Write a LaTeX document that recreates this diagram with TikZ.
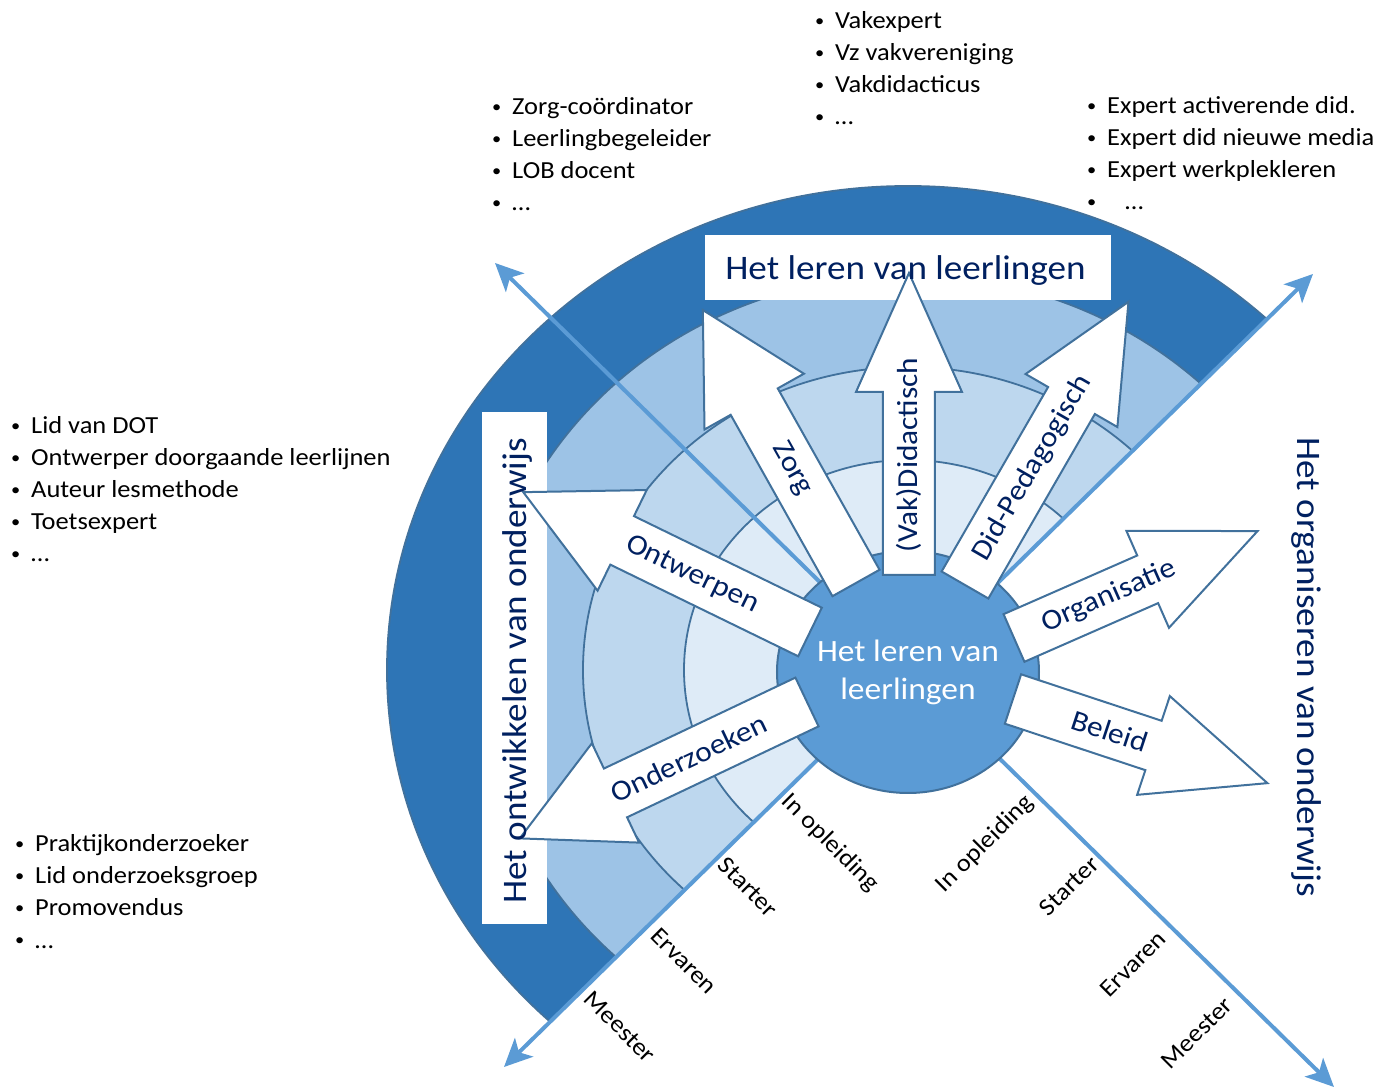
\documentclass[tikz,border=0pt]{standalone}
\usepackage{fontspec}
\setmainfont[FakeStretch=1.08]{Carlito}
\usetikzlibrary{shapes.geometric,arrows.meta}
\definecolor{cdark}{HTML}{2E75B6}
\definecolor{cmid}{HTML}{9DC3E6}
\definecolor{clight}{HTML}{BDD7EE}
\definecolor{cpale}{HTML}{DEEBF7}
\definecolor{chub}{HTML}{5B9BD5}
\definecolor{cline}{HTML}{41719C}
\definecolor{navy}{HTML}{002060}
\newcommand\fs[2]{\fontsize{#1}{#2}\selectfont}
% #1 x, #2 y, #3 angle, #4 length, #5 half shaft, #6 half head, #7 head length
\newcommand\blockarrow[7]{%
  \filldraw[barrow, shift={(#1,#2)}, rotate=#3]
    (0,-#5) -- ({#4-#7},-#5) -- ({#4-#7},-#6) -- (#4,0) -- ({#4-#7},#6) -- ({#4-#7},#5) -- (0,#5) -- cycle;}
\newcommand\bl[4]{\node[blist] (#1) at (#2,#3) {\llap{\raisebox{2.5pt}{\fs{17}{17}\textbullet}\hspace{11pt}}#4};}
\begin{document}
\begin{tikzpicture}[x=1pt,y=1pt,
  ringsty/.style={draw=cline, line width=1.8pt},
  barrow/.style={draw=cline, fill=white, line width=2pt, line join=miter},
  alabel/.style={text=navy, font=\fs{29}{35}, inner sep=0pt},
  diag/.style={draw=chub, line width=4pt, {Stealth[length=28pt,width=26pt,inset=7pt]}-{Stealth[length=28pt,width=26pt,inset=7pt]}},
  blist/.style={anchor=base west, font=\fs{24.5}{32}, inner sep=0pt},
  stage/.style={font=\fs{24.5}{30}, inner sep=0pt},
  whitebox/.style={fill=white, inner sep=0pt},
  bigtext/.style={text=navy, font=\fs{34.4}{40}, inner sep=0pt, anchor=base}
]
\useasboundingbox (-908,-419) rectangle (471,670);
% rings
\begin{scope}
  \clip (-808,-794) -- (810,792) -- (-900,900) -- cycle;
  \filldraw[ringsty, fill=cdark] (0,0) ellipse [x radius=521, y radius=484];
  \filldraw[ringsty, fill=cmid] (0,0) ellipse [x radius=425, y radius=395];
  \filldraw[ringsty, fill=clight] (0,0) ellipse [x radius=325, y radius=303];
  \filldraw[ringsty, fill=cpale] (0,0) ellipse [x radius=224, y radius=210];
\end{scope}
% diagonal axes
\coordinate (ll) at (-404,-397);
\coordinate (ur) at (405,396);
\coordinate (ul) at (-413,407);
\coordinate (lr) at (426,-417);
\draw[diag] (ll) -- (ur);
\draw[diag] (ul) -- (lr);
% hub
\node[ellipse, draw=cline, fill=chub, line width=2pt, minimum width=262pt, minimum height=242pt,
      inner sep=0pt, text=white, font=\fs{31}{38}, align=center] (hub) at (0,-2) {Het leren van\\leerlingen};
% white boxes
\node[whitebox, minimum width=406pt, minimum height=65pt] (topbox) at (0,402.5) {};
\node[whitebox, minimum width=65pt, minimum height=512pt] (leftbox) at (-393.5,2) {};
% block arrows
\blockarrow{1}{95}{90}{302}{26}{53}{119}
\blockarrow{-52}{87}{119.3}{313}{27}{57}{105}
\blockarrow{57}{85}{60}{327}{27}{53}{114}
\blockarrow{-98}{38}{154}{319}{27}{56}{110}
\blockarrow{-101}{-32}{205.4}{318}{27}{55}{106}
\blockarrow{106}{32}{23.7}{266}{26}{53}{120}
\blockarrow{105}{-29}{-18.3}{268}{26}{52}{120}
% arrow labels
\begin{scope}[shift={(1,95)},rotate=90]\node[alabel, rotate=90] (lvak) at (120,0) {(Vak)Didactisch};\end{scope}
\begin{scope}[shift={(-52,87)},rotate=119.3]\node[alabel, rotate=-60.7] (lzorg) at (131,0) {Zorg};\end{scope}
\begin{scope}[shift={(57,85)},rotate=60]\node[alabel, rotate=60] (lped) at (135,0) {Did-Pedagogisch};\end{scope}
\begin{scope}[shift={(-98,38)},rotate=154]\node[alabel, rotate=-26] (lontw) at (131,0) {Ontwerpen};\end{scope}
\begin{scope}[shift={(-101,-32)},rotate=205.4]\node[alabel, rotate=25.4] (lond) at (131,0) {Onderzoeken};\end{scope}
\begin{scope}[shift={(106,32)},rotate=23.7]\node[alabel, rotate=23.7] (lorg) at (104,0) {Organisatie};\end{scope}
\begin{scope}[shift={(105,-29)},rotate=-18.3]\node[alabel, rotate=-18.3] (lbel) at (102,0) {Beleid};\end{scope}
% big texts
\node[bigtext] (toptext) at (-2.5,390) {Het leren van leerlingen};
\node[bigtext, rotate=90] (lefttext) at (-381,-1) {Het ontwikkelen van onderwijs};
\node[bigtext, rotate=-90] (righttext) at (389,3) {Het organiseren van onderwijs};
% stage labels
\node[stage, rotate=-45] (s1) at (-78,-173) {In opleiding};
\node[stage, rotate=-45] (s2) at (-160,-217) {Starter};
\node[stage, rotate=-45] (s3) at (-224,-291) {Ervaren};
\node[stage, rotate=-45] (s4) at (-288,-357) {Meester};
\node[stage, rotate=45] (t1) at (77,-174) {In opleiding};
\node[stage, rotate=45] (t2) at (161,-216) {Starter};
\node[stage, rotate=45] (t3) at (225,-294) {Ervaren};
\node[stage, rotate=45] (t4) at (289,-363) {Meester};
% bullet lists
\bl{a1}{-73}{641}{Vakexpert}
\bl{a2}{-73}{609}{Vz vakvereniging}
\bl{a3}{-73}{577}{Vakdidacticus}
\bl{a4}{-73}{545}{…}
\bl{b1}{-396}{555}{Zorg-coördinator}
\bl{b2}{-396}{523}{Leerlingbegeleider}
\bl{b3}{-396}{491}{LOB docent}
\bl{b4}{-396}{459}{…}
\bl{c1}{199}{556}{Expert activerende did.}
\bl{c2}{199}{524}{Expert did nieuwe media}
\bl{c3}{199}{492}{Expert werkplekleren}
\bl{c4}{199}{460}{\hspace{18pt}…}
\bl{d1}{-877}{236}{Lid van DOT}
\bl{d2}{-877}{204}{Ontwerper doorgaande leerlijnen}
\bl{d3}{-877}{172}{Auteur lesmethode}
\bl{d4}{-877}{140}{Toetsexpert}
\bl{d5}{-877}{108}{…}
\bl{e1}{-873}{-182}{Praktijkonderzoeker}
\bl{e2}{-873}{-214}{Lid onderzoeksgroep}
\bl{e3}{-873}{-246}{Promovendus}
\bl{e4}{-873}{-278}{…}
\end{tikzpicture}
\end{document}
